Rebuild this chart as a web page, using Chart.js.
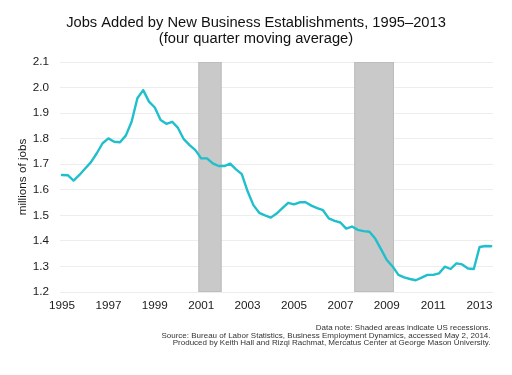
<!DOCTYPE html>
<html>
<head>
<meta charset="utf-8">
<script src="https://cdn.jsdelivr.net/npm/chart.js@4/dist/chart.umd.min.js"></script>
<style>
  html, body { margin: 0; padding: 0; background: #ffffff; }
  #wrap { width: 512px; height: 375px; position: relative; }
</style>
</head>
<body>
<div id="wrap"><canvas id="c" width="512" height="375"></canvas></div>
<script>
// ---- data ----
const quarters = [
  "1995Q1","1995Q2","1995Q3","1995Q4",
  "1996Q1","1996Q2","1996Q3","1996Q4",
  "1997Q1","1997Q2","1997Q3","1997Q4",
  "1998Q1","1998Q2","1998Q3","1998Q4",
  "1999Q1","1999Q2","1999Q3","1999Q4",
  "2000Q1","2000Q2","2000Q3","2000Q4",
  "2001Q1","2001Q2","2001Q3","2001Q4",
  "2002Q1","2002Q2","2002Q3","2002Q4",
  "2003Q1","2003Q2","2003Q3","2003Q4",
  "2004Q1","2004Q2","2004Q3","2004Q4",
  "2005Q1","2005Q2","2005Q3","2005Q4",
  "2006Q1","2006Q2","2006Q3","2006Q4",
  "2007Q1","2007Q2","2007Q3","2007Q4",
  "2008Q1","2008Q2","2008Q3","2008Q4",
  "2009Q1","2009Q2","2009Q3","2009Q4",
  "2010Q1","2010Q2","2010Q3","2010Q4",
  "2011Q1","2011Q2","2011Q3","2011Q4",
  "2012Q1","2012Q2","2012Q3","2012Q4",
  "2013Q1","2013Q2","2013Q3"
];
const jobsMillions = [
  1.658, 1.657, 1.636, 1.658,
  1.683, 1.708, 1.743, 1.782,
  1.801, 1.788, 1.786, 1.812,
  1.866, 1.958, 1.990, 1.945,
  1.922, 1.873, 1.858, 1.866,
  1.842, 1.798, 1.775, 1.755,
  1.723, 1.723, 1.703, 1.693,
  1.693, 1.702, 1.680, 1.661,
  1.594, 1.540, 1.510, 1.500,
  1.491, 1.507, 1.528, 1.549,
  1.543, 1.551, 1.551, 1.538,
  1.528, 1.520, 1.488, 1.478,
  1.472, 1.448, 1.456, 1.443,
  1.438, 1.436, 1.409, 1.368,
  1.325, 1.300, 1.267, 1.257,
  1.251, 1.246, 1.256, 1.267,
  1.267, 1.273, 1.299, 1.290,
  1.312, 1.308, 1.292, 1.290,
  1.376, 1.380, 1.379
];
const recessionStart = [2000.88, 2007.60];
const recessionEnd   = [2001.88, 2009.31];
const xTickYears = [1995, 1997, 1999, 2001, 2003, 2005, 2007, 2009, 2011, 2013];
const yTickValues = [1.2, 1.3, 1.4, 1.5, 1.6, 1.7, 1.8, 1.9, 2.0, 2.1];
const titleLines = ["Jobs Added by New Business Establishments, 1995\u20132013", "(four quarter moving average)"];
const yAxisTitle = "millions of jobs";
const footnoteLines = [
  "Data note: Shaded areas indicate US recessions.",
  "Source: Bureau of Labor Statistics, Business Employment Dynamics, accessed May 2, 2014.",
  "Produced by Keith Hall and Rizqi Rachmat, Mercatus Center at George Mason University."
];

// quarter label -> decimal year position
function quarterToYear(q) {
  return parseInt(q.slice(0, 4), 10) + (parseInt(q.slice(5), 10) - 1) / 4;
}
const points = quarters.map((q, i) => ({ x: quarterToYear(q), y: jobsMillions[i] }));

const FONT = '"Liberation Sans", Arial, Helvetica, sans-serif';

const recessionPlugin = {
  id: 'recessions',
  beforeDatasetsDraw(chart) {
    const xs = chart.scales.x, area = chart.chartArea, ctx = chart.ctx;
    ctx.save();
    for (let i = 0; i < recessionStart.length; i++) {
      const x1 = xs.getPixelForValue(recessionStart[i]);
      const x2 = xs.getPixelForValue(recessionEnd[i]);
      ctx.fillStyle = '#c9c9c9';
      ctx.fillRect(x1, area.top, x2 - x1, area.bottom - area.top);
      ctx.strokeStyle = '#bdbdbd';
      ctx.lineWidth = 1;
      ctx.strokeRect(x1 + 0.5, area.top + 0.5, x2 - x1 - 1, area.bottom - area.top - 1);
    }
    ctx.restore();
  }
};

const footnotePlugin = {
  id: 'footnote',
  afterDraw(chart) {
    const ctx = chart.ctx, area = chart.chartArea;
    ctx.save();
    ctx.font = '8px ' + FONT;
    ctx.fillStyle = '#333333';
    ctx.textAlign = 'right';
    ctx.textBaseline = 'middle';
    footnoteLines.forEach((t, i) => {
      ctx.fillText(t, area.right - 2.5, area.bottom + 36 + i * 7.3);
    });
    ctx.restore();
  }
};

new Chart(document.getElementById('c'), {
  type: 'line',
  data: {
    datasets: [{
      data: points,
      borderColor: '#1fbfcc',
      borderWidth: 2.4,
      pointRadius: 0,
      tension: 0,
      fill: false,
      borderJoinStyle: 'round',
      borderCapStyle: 'round'
    }]
  },
  options: {
    responsive: false,
    animation: false,
    devicePixelRatio: 1,
    layout: { padding: { left: 0, right: 0, top: 0, bottom: 55 } },
    plugins: {
      legend: { display: false },
      tooltip: { enabled: false },
      title: {
        display: true,
        text: titleLines,
        color: '#111111',
        font: { family: FONT, size: 14.7, weight: 'normal', lineHeight: 1.1 },
        padding: { top: 14.9, bottom: 14.76 }
      }
    },
    scales: {
      x: {
        type: 'linear',
        min: 1994.914,
        max: 2013.578,
        afterBuildTicks(scale) { scale.ticks = xTickYears.map(v => ({ value: v })); },
        afterFit(scale) { scale.height = 28; },
        grid: { display: false, drawTicks: false },
        border: { display: false },
        ticks: {
          padding: 7,
          color: '#1a1a1a',
          font: { family: FONT, size: 11.7 },
          maxRotation: 0,
          autoSkip: false,
          callback: (v) => String(v)
        }
      },
      y: {
        min: 1.2,
        max: 2.1,
        afterBuildTicks(scale) { scale.ticks = yTickValues.map(v => ({ value: v })); },
        afterFit(scale) { scale.width = 60; },
        grid: { color: '#ededed', lineWidth: 1, drawTicks: false },
        border: { display: false },
        ticks: {
          padding: 11,
          color: '#1a1a1a',
          font: { family: FONT, size: 11.7 },
          callback: (v) => Number(v).toFixed(1)
        },
        title: {
          display: true,
          text: yAxisTitle,
          color: '#1a1a1a',
          font: { family: FONT, size: 11.7 },
          padding: { top: 16, bottom: 0 }
        }
      },
      yR: {
        position: 'right',
        display: true,
        afterFit(scale) { scale.width = 19; },
        grid: { display: false, drawTicks: false },
        border: { display: false },
        ticks: { display: false }
      }
    }
  },
  plugins: [recessionPlugin, footnotePlugin]
});
</script>
</body>
</html>
